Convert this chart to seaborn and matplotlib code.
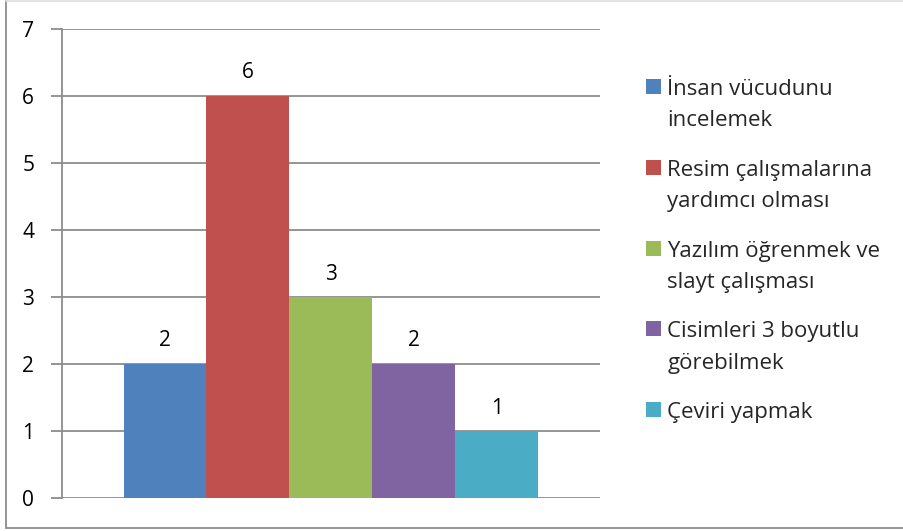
import matplotlib
matplotlib.use("Agg")
import matplotlib.pyplot as plt
from matplotlib.patches import Rectangle
from matplotlib.lines import Line2D
import seaborn as sns
import pandas as pd

# Survey answers and counts
categories = ["İnsan vücudunu\nincelemek",
              "Resim çalışmalarına\nyardımcı olması",
              "Yazılım öğrenmek ve\nslayt çalışması",
              "Cisimleri 3 boyutlu\ngörebilmek",
              "Çeviri yapmak"]
values = [2, 6, 3, 2, 1]
colors = ["#4F81BD", "#C0504D", "#9BBB59", "#8064A2", "#4BACC6"]
y_ticks = [0, 1, 2, 3, 4, 5, 6, 7]

sns.set_theme(style="white")
plt.rcParams["font.family"] = ["Open Sans", "DejaVu Sans"]

df = pd.DataFrame({"group": [""] * len(values), "answer": categories, "count": values})

fig = plt.figure(figsize=(9.04, 5.31), dpi=100)
W, H = 904, 531
ax = fig.add_axes([62 / W, 1 - 498 / H, (600 - 62) / W, (498 - 29) / H])

sns.barplot(data=df, x="group", y="count", hue="answer", hue_order=categories,
            palette=colors, width=0.8, saturation=1, ax=ax, legend=False,
            linewidth=0, edgecolor="none")

grid_c = "#8C8C8C"
fs = 15
half = 0.8 * 538 / 415 / 2
ax.set_xlim(-half, half)
ax.set_ylim(0, 7)
ax.set_yticks(y_ticks)
ax.yaxis.grid(True, color=grid_c, linewidth=1.3)
ax.set_axisbelow(True)
for s in ["top", "right", "bottom"]:
    ax.spines[s].set_visible(False)
ax.spines["left"].set_color(grid_c)
ax.spines["left"].set_linewidth(1.3)
ax.tick_params(axis="y", left=True, length=8, width=1.3, color=grid_c,
               labelsize=fs, pad=12, labelcolor="black")
ax.tick_params(axis="x", bottom=False, labelbottom=False)
ax.set_xlabel("")
ax.set_ylabel("")

# value labels above each bar
for cont in ax.containers:
    ax.bar_label(cont, fmt="%d", padding=9, fontsize=fs, color="black")

# legend
handles = [Rectangle((0, 0), 1, 1, facecolor=c, edgecolor="none") for c in colors]
leg = fig.legend(handles, categories, loc="upper left",
                 bbox_to_anchor=(637 / W, 1 - 70 / H), frameon=False,
                 fontsize=16, handlelength=0.66, handleheight=0.66,
                 handletextpad=0.3, labelspacing=1.28, borderaxespad=0)
for t in leg.get_texts():
    t.set_linespacing(1.65)
for col in leg._legend_handle_box.get_children():
    for row in col.get_children():
        row.align = "top"

# chart frame
fig.add_artist(Line2D([6 / W, 6 / W], [1 - 528 / H, 1.0], transform=fig.transFigure,
                      color="#8C8C8C", linewidth=1.3))
fig.add_artist(Line2D([6 / W, 1.0], [1 - 528 / H, 1 - 528 / H], transform=fig.transFigure,
                      color="#8C8C8C", linewidth=1.3))
fig.add_artist(Line2D([6 / W, 1.0], [1 - 0.5 / H, 1 - 0.5 / H], transform=fig.transFigure,
                      color="#E0E0E0", linewidth=1.3))

fig.savefig("out.png", dpi=100, facecolor="white")
